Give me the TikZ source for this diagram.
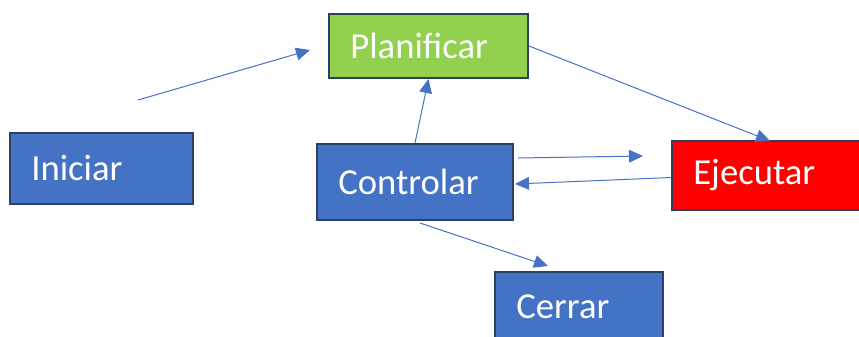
\documentclass[tikz,border=0pt]{standalone}
\usepackage{fontspec}
\setmainfont{Carlito}
\usepackage{tikz}
\usetikzlibrary{positioning, calc, arrows.meta}
\usepackage{xcolor}

\definecolor{boxblue}{HTML}{4472C4}
\definecolor{boxedge}{HTML}{2F3F5F}
\definecolor{boxgreen}{HTML}{92D050}
\definecolor{boxred}{HTML}{FF0000}

\tikzset{
    phase/.style={draw=boxedge, line width=1.5pt, text=white, align=left,
        inner xsep=16pt, inner ysep=0pt, font=\fontsize{27.5}{32}\selectfont},
    flow/.style={draw=boxblue, line width=0.75pt, -{Triangle[length=10.5pt,width=9.5pt]}}
}

\begin{document}
\begin{tikzpicture}[x=0.75pt, y=-0.75pt]
    \useasboundingbox (0,0) rectangle (859,336);

    \node[phase, fill=boxgreen, minimum width=149.25pt, minimum height=48pt, text width=117.25pt] (plan) at (428.5,46) {Planificar};
    \node[phase, fill=boxblue, minimum width=137.25pt, minimum height=53.25pt, text width=105.25pt] (ini) at (101.5,168.5) {Iniciar};
    \node[phase, fill=boxblue, minimum width=147pt, minimum height=57pt, text width=115pt] (ctl) at (415,182) {Controlar};
    \node[phase, fill=boxred, minimum width=156pt, minimum height=51.75pt, text width=124pt] (eje) at (776,175.5) {Ejecutar};
    \node[phase, fill=boxblue, minimum width=126pt, minimum height=52.5pt, text width=94pt] (cer) at (579,307) {Cerrar};

    \coordinate (s1) at (138,100);
    \coordinate (s2) at (310,50);
    \coordinate (c1) at (643,156);

    \draw[flow] (s1) -- (s2);
    \draw[flow] (ctl.north) -- (plan.south);
    \draw[flow] (plan.east) -- ($(eje.north)+(-6,1)$);
    \draw[flow] ($(ctl.east)+(4,-24)$) -- (c1);
    \draw[flow] ($(eje.west)+(0,2)$) -- ($(ctl.east)+(1,2)$);
    \draw[flow] ($(ctl.south)+(5,2)$) -- ($(cer.north)+(-31,-5)$);
\end{tikzpicture}
\end{document}
